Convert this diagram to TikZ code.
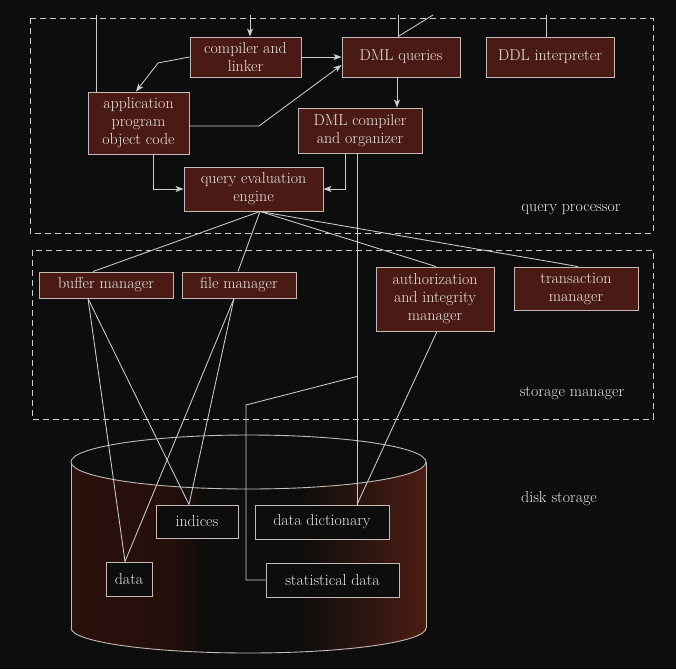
\documentclass[tikz,border=0pt]{standalone}
\usetikzlibrary{arrows.meta,calc}
\definecolor{bg}{RGB}{13,13,13}
\definecolor{boxfill}{RGB}{74,27,20}
\definecolor{bord}{RGB}{196,186,182}
\definecolor{lin}{RGB}{205,205,205}
\definecolor{txt}{RGB}{236,230,226}
\definecolor{cylA}{RGB}{44,17,12}
\definecolor{cylB}{RGB}{36,15,11}
\definecolor{cylC}{RGB}{76,29,19}
\pgfdeclarehorizontalshading{cyl}{100bp}{color(0bp)=(cylA); color(25bp)=(cylA); color(38.9bp)=(cylB); color(43.9bp)=(bg); color(57.3bp)=(bg); color(75bp)=(cylC); color(100bp)=(cylC)}
\tikzset{
  pbox/.style={draw=bord, fill=boxfill, line width=0.9pt, inner sep=0pt, align=center, text=txt, font=\fontsize{15.9}{18}\selectfont},
  dbox/.style={pbox, fill=bg},
  conn/.style={draw=lin, line width=0.85pt},
  arr/.style={conn, -{Stealth[length=8pt,width=6pt,inset=2pt]}},
  dashbox/.style={draw=lin, line width=0.9pt, dash pattern=on 6pt off 4pt},
  lab/.style={text=txt, font=\fontsize{15.9}{18}\selectfont, inner sep=0pt}
}
\begin{document}
\begin{tikzpicture}[x=1pt,y=-1pt]
\fill[bg] (0,0) rectangle (676,669);
\useasboundingbox (0,0) rectangle (676,669);
% dashed regions
\draw[dashbox] (30,18) rectangle (653,233);
\draw[dashbox] (32,250) rectangle (653,419);
\node[lab] (lqp) at (571,210) {query processor};
\node[lab] (lsm) at (572,393) {storage manager};
\node[lab] (lds) at (559,499) {disk storage};
% cylinder
\shade[shading=cyl] (71,462) rectangle (426,628);
\shade[shading=cyl] (248.5,628) ellipse [x radius=177.5, y radius=25];
\begin{scope}
\clip (60,628) rectangle (440,669);
\draw[draw=bord, line width=0.9pt] (248.5,628) ellipse [x radius=177.5, y radius=25];
\end{scope}
\draw[draw=bord, line width=0.9pt] (71,462) -- (71,628);
\draw[draw=bord, line width=0.9pt] (426,462) -- (426,628);
\filldraw[fill=bg, draw=bord, line width=0.9pt] (248.5,462) ellipse [x radius=177.5, y radius=27];
% nodes query processor
\node[pbox, minimum width=111pt, minimum height=40pt] (cl) at (245.5,57) {compiler and\\linker};
\node[pbox, minimum width=118pt, minimum height=40pt] (dq) at (401,57) {DML queries};
\node[pbox, minimum width=128pt, minimum height=40pt] (ddl) at (550,57) {DDL interpreter};
\node[pbox, minimum width=101pt, minimum height=62pt] (app) at (138.5,123) {application\\program\\object code};
\node[pbox, minimum width=124pt, minimum height=45pt] (dmlc) at (360,130.5) {DML compiler\\and organizer};
\node[pbox, minimum width=139pt, minimum height=44pt] (qe) at (253.5,189) {query evaluation\\engine};
% storage manager
\node[pbox, minimum width=134pt, minimum height=26pt] (bm) at (106,285) {buffer manager};
\node[pbox, minimum width=114pt, minimum height=26pt] (fm) at (239,285) {file manager};
\node[pbox, minimum width=118pt, minimum height=64pt] (auth) at (435,299) {authorization\\and integrity\\manager};
\node[pbox, minimum width=124pt, minimum height=43pt] (tm) at (576,288.5) {transaction\\manager};
% disk
\node[dbox, minimum width=82pt, minimum height=33pt] (ind) at (197,521.5) {indices};
\node[dbox, minimum width=134pt, minimum height=34pt] (dd) at (322,522) {data dictionary};
\node[dbox, minimum width=46pt, minimum height=34pt] (data) at (129,579) {data};
\node[dbox, minimum width=133pt, minimum height=34pt] (stat) at (332.5,580) {statistical data};
% free ends
\coordinate (t1) at (96,15);
\coordinate (t2) at (250,15);
\coordinate (t3) at (398,15);
\coordinate (t4) at (433,15);
\coordinate (t5) at (546,15);
\coordinate (b1) at (158,63);
\coordinate (b2) at (259,126);
\coordinate (q1) at ($(dq.south)+(-4,0)$);
\coordinate (v1) at ($(dmlc.south)+(-3,0)$);
\coordinate (qb) at ($(qe.south)+(6.5,0)$);
\coordinate (br) at ($(v1)+(0,223)$);
\coordinate (b3) at (246,405);
\coordinate (ddt) at (v1 |- dd.north);
% connectors
\draw[conn] (t1) -- (t1 |- app.north);
\draw[arr] (t2) -- (t2 |- cl.north);
\draw[conn] (t3) -- (t3 |- dq.north);
\draw[conn] (t4) -- (t3 |- dq.north);
\draw[conn] (t5) -- (t5 |- ddl.north);
\draw[arr] (cl.east) -- (dq.west);
\draw[arr] (cl.west) -- (b1) -- ($(app.north)+(-2.5,0)$);
\draw[arr] ($(app.east)+(0,3)$) -- (b2) -- ($(dq.west)+(0,8)$);
\draw[arr] (q1) -- (q1 |- dmlc.north);
\draw[arr] ($(app.south)+(14.5,0)$) |- (qe.west);
\draw[arr] ($(dmlc.south)+(-15,0)$) |- (qe.east);
\draw[conn] (v1) -- (ddt);
\draw[conn] (qb) -- ($(bm.north)+(-13,0)$);
\draw[conn] (qb) -- ($(fm.north)+(-1,0)$);
\draw[conn] (qb) -- ($(auth.north)+(1,0)$);
\draw[conn] (qb) -- ($(tm.north)+(2,0)$);
\draw[conn] ($(bm.south)+(-18,0)$) -- ($(data.north)+(-4,0)$);
\draw[conn] ($(bm.south)+(-18,0)$) -- ($(ind.north)+(-8,0)$);
\draw[conn] ($(fm.south)+(-5,0)$) -- ($(data.north)+(-4,0)$);
\draw[conn] ($(fm.south)+(-5,0)$) -- ($(ind.north)+(-8,0)$);
\draw[conn] ($(auth.south)+(2,0)$) -- (ddt);
\draw[conn] (br) -- (b3) -- (b3 |- stat.west) -- (stat.west);
\end{tikzpicture}
\end{document}
